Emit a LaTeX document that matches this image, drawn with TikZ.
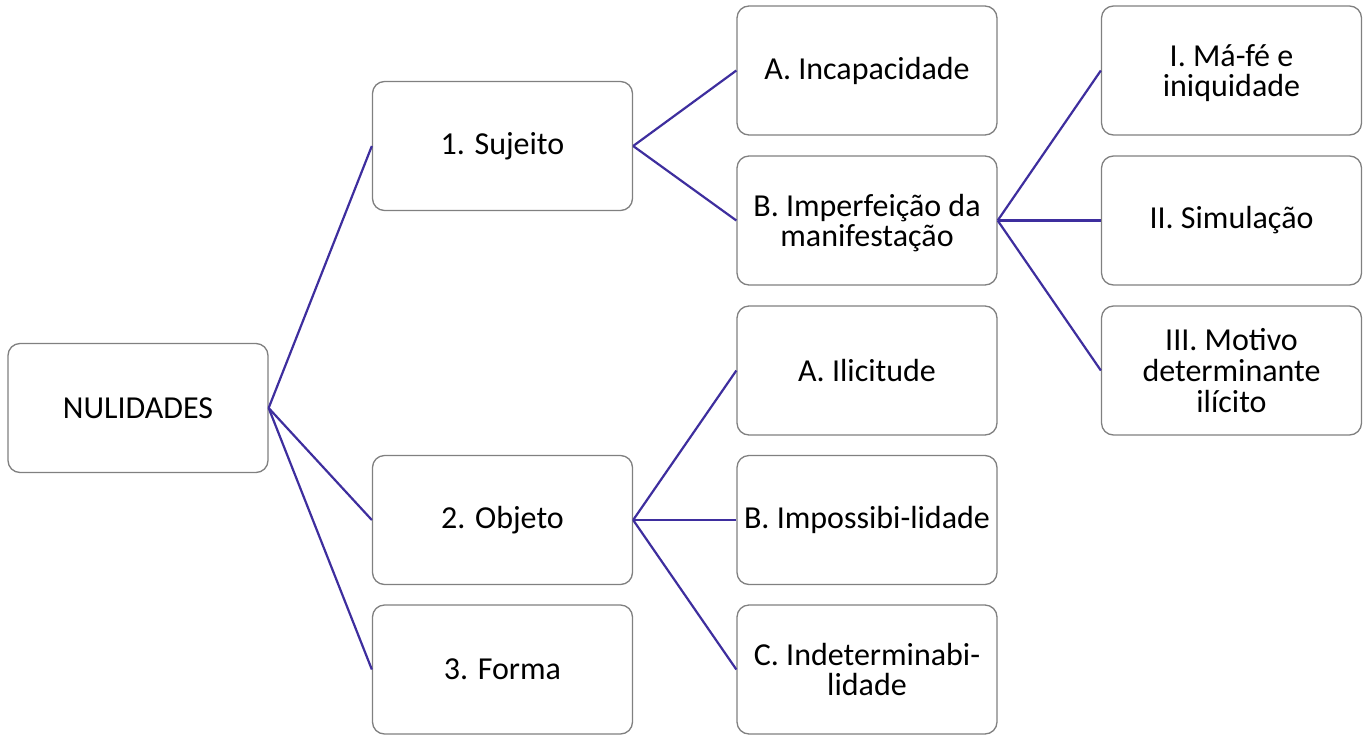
\documentclass[tikz,border=0pt]{standalone}
\usepackage{fontspec}
\setmainfont{Carlito}
\definecolor{treeline}{RGB}{62,46,158}
\definecolor{boxline}{RGB}{128,128,128}
\tikzset{
        box/.style={draw=boxline, line width=1.3pt, rounded corners=12pt, fill=white,
          minimum width=260pt, minimum height=129pt, align=center, inner sep=2pt,
          font=\fontsize{32}{30.7}\selectfont},
        multiline/.style={box, text depth=0pt},
        branch/.style={draw=treeline, line width=2.2pt}
          }
\begin{document}
\begin{tikzpicture}
        [x=1pt, y=-1pt]
        \useasboundingbox (0,0) rectangle (1368,734);
        % first column
        \node[box] (nulidades) at (138,408) {NULIDADES};
        % second column
        \node[box] (sujeito) at (502.5,146) {1. Sujeito};
        \node[box] (objeto) at (502.5,520) {2. Objeto};
        \node[box] (forma) at (502.5,669.5) {3. Forma};
        % third column
        \node[box] (incapacidade) at (867,70.5) {A. Incapacidade};
        \node[multiline] (imperfeicao) at (867,220.5) {B. Imperfeição da\\manifestação};
        \node[box] (ilicitude) at (867,370.5) {A. Ilicitude};
        \node[box] (impossibilidade) at (867,520) {B. Impossibi-lidade};
        \node[multiline] (indeterminabilidade) at (867,669.5) {C. Indeterminabi-\\lidade};
        % fourth column
        \node[multiline] (mafe) at (1231.5,70.5) {I. Má-fé e\\iniquidade};
        \node[box] (simulacao) at (1231.5,220.5) {II. Simulação};
        \node[multiline] (motivo) at (1231.5,370.5) {III. Motivo\\determinante\\ilícito};
        % branches
        \foreach \a/\b in {nulidades/sujeito, nulidades/objeto, nulidades/forma,
            sujeito/incapacidade, sujeito/imperfeicao,
            objeto/ilicitude, objeto/impossibilidade, objeto/indeterminabilidade,
            imperfeicao/mafe, imperfeicao/simulacao, imperfeicao/motivo}
          \draw[branch] (\a.east) -- (\b.west);
      \end{tikzpicture}
\end{document}
